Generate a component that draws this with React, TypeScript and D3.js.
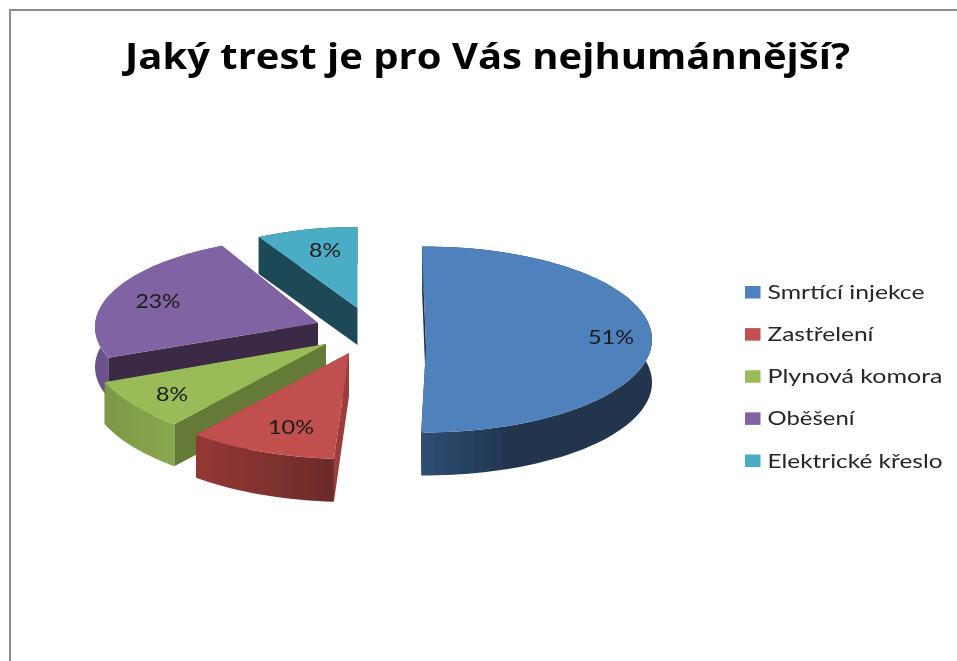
import React from "react";
import * as d3 from "d3";

const titleText = "Jaký trest je pro Vás nejhumánnější?";
const categories = ["Smrtící injekce", "Zastřelení", "Plynová komora", "Oběšení", "Elektrické křeslo"];
const values = [51, 10, 8, 23, 8];
const labels = ["51%", "10%", "8%", "23%", "8%"];
const topColors = ["#4f81bd", "#c0504d", "#9bbb59", "#8064a2", "#4bacc6"];
const wallColors = ["#1e3048", "#9a3e3b", "#667a38", "#3a2a45", "#1f4a55"];
const outerFrom = ["#2f4e74", "#953836", "#8aa84e", "#6f5690", "#1f4a55"];
const outerTo = ["#20344e", "#6c2b29", "#7d9846", "#6a528a", "#1f4a55"];

// layout of the exploded, perspective-distorted slices
const geometry = [
  { ax: 426, ay: 347, cx: 424, cy: 339.5, rx: 228, ry: 93, depth: 43, a0: -0.5, a1: -2.9, lx: 611, ly: 337, lw: 46 },
  { ax: 349, ay: 353, cx: 349, cy: 353, rx: 240, ry: 106, depth: 43, a0: 0, a1: 0, lx: 291, ly: 427, lw: 46 },
  { ax: 326, ay: 344, cx: 326, cy: 344, rx: 238, ry: 104, depth: 42, a0: 0, a1: 0, lx: 172, ly: 394, lw: 32 },
  { ax: 318, ay: 323, cx: 318, cy: 327, rx: 223, ry: 90, depth: 40, a0: 1.6, a1: 3.3, lx: 158, ly: 301, lw: 45 },
  { ax: 357.5, ay: 308, cx: 357.5, cy: 308, rx: 205, ry: 81, depth: 37, a0: 0, a1: 0, lx: 325, ly: 250, lw: 32 },
];
const legendWidths = [157, 106, 175, 87, 175];
const FONT = "Lato, 'Open Sans', sans-serif";
const TITLE_FONT = "'Open Sans', 'Noto Sans', sans-serif";

const arcs = d3.pie<number>().sort(null).value((d) => d)(values);
const deg = Math.PI / 180;
const line = d3.line<[number, number]>().curve(d3.curveLinear);
const legendY = d3.scaleLinear().domain([0, 4]).range([292, 460.5]);

const slices = arcs.map((a, i) => {
  const g = geometry[i];
  const t0 = a.startAngle + g.a0 * deg;
  const t1 = a.endAngle + g.a1 * deg;
  const n = Math.max(8, Math.round((t1 - t0) / (2 * deg)));
  const at = d3.scaleLinear().domain([0, n]).range([t0, t1]);
  const rim: [number, number][] = d3.range(n + 1).map((k) => [
    g.cx + g.rx * Math.sin(at(k)),
    g.cy - g.ry * Math.cos(at(k)),
  ]);
  const apex: [number, number] = [g.ax, g.ay];
  const down = (p: [number, number]): [number, number] => [p[0], p[1] + g.depth];
  const first = rim[0];
  const last = rim[rim.length - 1];
  return {
    i,
    g,
    top: line([apex, ...rim])! + "Z",
    wallStart: line([apex, first, down(first), down(apex)])! + "Z",
    wallEnd: line([apex, last, down(last), down(apex)])! + "Z",
    outer: line([...rim, ...rim.map(down).reverse()])! + "Z",
    x0: d3.min(rim, (p) => p[0])!,
    x1: d3.max(rim, (p) => p[0])!,
  };
});

// painter's order: back to front
const order = [4, 3, 2, 1, 0];

export default function App() {
  return (
    <svg
      width={957}
      height={661}
      viewBox="0 0 957 661"
      style={{ position: "fixed", left: 0, top: 0, display: "block", background: "#fff" }}
    >
      <defs>
        <filter id="soft" x="-5%" y="-5%" width="110%" height="110%">
          <feGaussianBlur stdDeviation="0.45" />
        </filter>
        {slices.map((s) => (
          <linearGradient
            key={s.i}
            id={`outer${s.i}`}
            gradientUnits="userSpaceOnUse"
            x1={s.i === 0 ? s.x0 : s.x1}
            x2={s.i === 0 ? s.x0 + 90 : s.x0}
            y1={0}
            y2={0}
          >
            <stop offset="0" stopColor={s.i === 1 ? outerTo[1] : outerFrom[s.i]} />
            <stop offset="1" stopColor={s.i === 1 ? outerFrom[1] : outerTo[s.i]} />
          </linearGradient>
        ))}
      </defs>
      <rect width={957} height={661} fill="#fff" />
      <g filter="url(#soft)">
        <path d="M10 661V10H957" fill="none" stroke="#8c8c8c" strokeWidth={2} />
        <text
          x={125}
          y={69}
          fontFamily={TITLE_FONT}
          fontWeight={700}
          fontSize={36}
          fill="#000"
          textLength={725}
          lengthAdjust="spacingAndGlyphs"
        >
          {titleText}
        </text>
        {order.map((i) => {
          const s = slices[i];
          const outer = <path d={s.outer} fill={`url(#outer${i})`} />;
          const back = i >= 3;
          return (
            <g key={i}>
              {back && outer}
              <path d={s.wallStart} fill={wallColors[i]} />
              <path d={s.wallEnd} fill={wallColors[i]} />
              {!back && outer}
              <path d={s.top} fill={topColors[i]} />
            </g>
          );
        })}
        {slices.map((s) => (
          <text
            key={s.i}
            x={s.g.lx}
            y={s.g.ly + 7}
            textAnchor="middle"
            fontFamily={FONT}
            fontSize={20}
            fill="#1a1a1a"
            textLength={s.g.lw}
            lengthAdjust="spacingAndGlyphs"
          >
            {labels[s.i]}
          </text>
        ))}
        {categories.map((c, i) => (
          <g key={c}>
            <rect x={745} y={legendY(i) - 6} width={15.5} height={12.5} fill={topColors[i]} />
            <text
              x={767.5}
              y={legendY(i) + 7}
              fontFamily={FONT}
              fontSize={20}
              fill="#262626"
              textLength={legendWidths[i]}
              lengthAdjust="spacingAndGlyphs"
            >
              {c}
            </text>
          </g>
        ))}
      </g>
    </svg>
  );
}
